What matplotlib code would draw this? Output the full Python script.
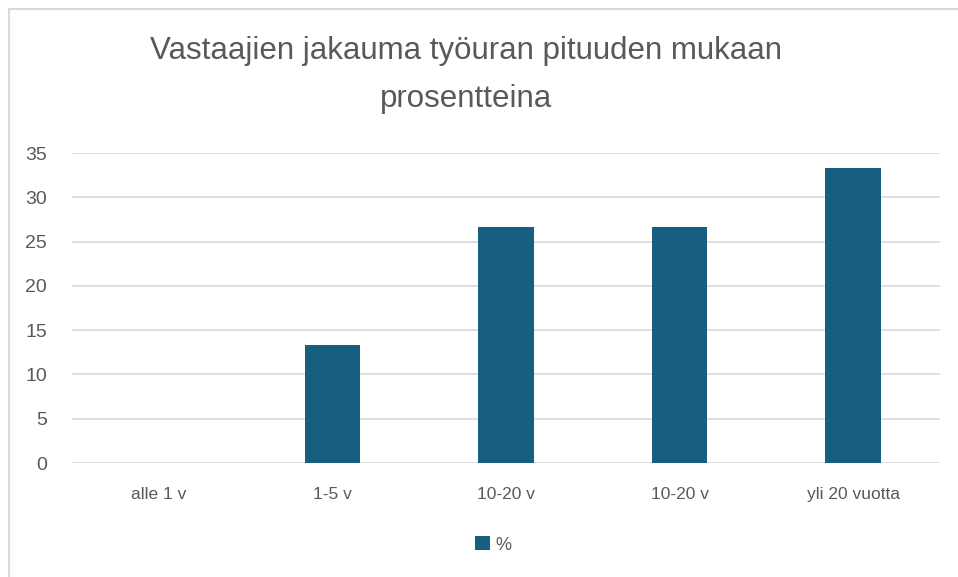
import matplotlib.pyplot as plt
from matplotlib.lines import Line2D

# Chart data
categories = ['alle 1 v', '1-5 v', '10-20 v', '10-20 v', 'yli 20 vuotta']
percent = [0, 13.3, 26.7, 26.7, 33.3]
y_ticks = [0, 5, 10, 15, 20, 25, 30, 35]
title = 'Vastaajien jakauma työuran pituuden mukaan\nprosentteina'

plt.rcParams['font.family'] = ['Liberation Sans', 'DejaVu Sans']
text_color = '#595959'
bar_color = '#175f80'

fig = plt.figure(figsize=(9.58, 5.77), dpi=100)
W, H = 958, 577
ax = fig.add_axes([72 / W, 1 - 463 / H, (940 - 72) / W, (463 - 153) / H])

x = range(len(categories))
ax.bar(x, percent, width=0.32, color=bar_color, label='%', zorder=3)

ax.set_xlim(-0.5, len(categories) - 0.5)
ax.set_ylim(0, 35)
ax.set_yticks(y_ticks)
ax.set_xticks(list(x))
ax.set_xticklabels(categories)
ax.tick_params(axis='both', length=0, colors=text_color)
ax.tick_params(axis='x', pad=17, labelsize=12.5)
ax.tick_params(axis='y', pad=18, labelsize=14)
ax.grid(axis='y', color='#d9d9d9', linewidth=1.2, zorder=0)
for s in ax.spines.values():
    s.set_visible(False)

fig.text(466 / W, 1 - 75 / H, title, ha='center', va='center', fontsize=22.5,
         color=text_color, linespacing=1.75)

fig.legend(loc='center', bbox_to_anchor=(493 / W, 1 - 545 / H), frameon=False,
           fontsize=13, labelcolor=text_color, handlelength=0.8, handleheight=0.8,
           handletextpad=0.3)

# chart frame (top and left edges)
fig.add_artist(Line2D([9 / W, 1], [1 - 9 / H, 1 - 9 / H], color='#d9d9d9', lw=1.5))
fig.add_artist(Line2D([9 / W, 9 / W], [0, 1 - 9 / H], color='#d9d9d9', lw=1.5))

fig.savefig('out.png', dpi=100)
